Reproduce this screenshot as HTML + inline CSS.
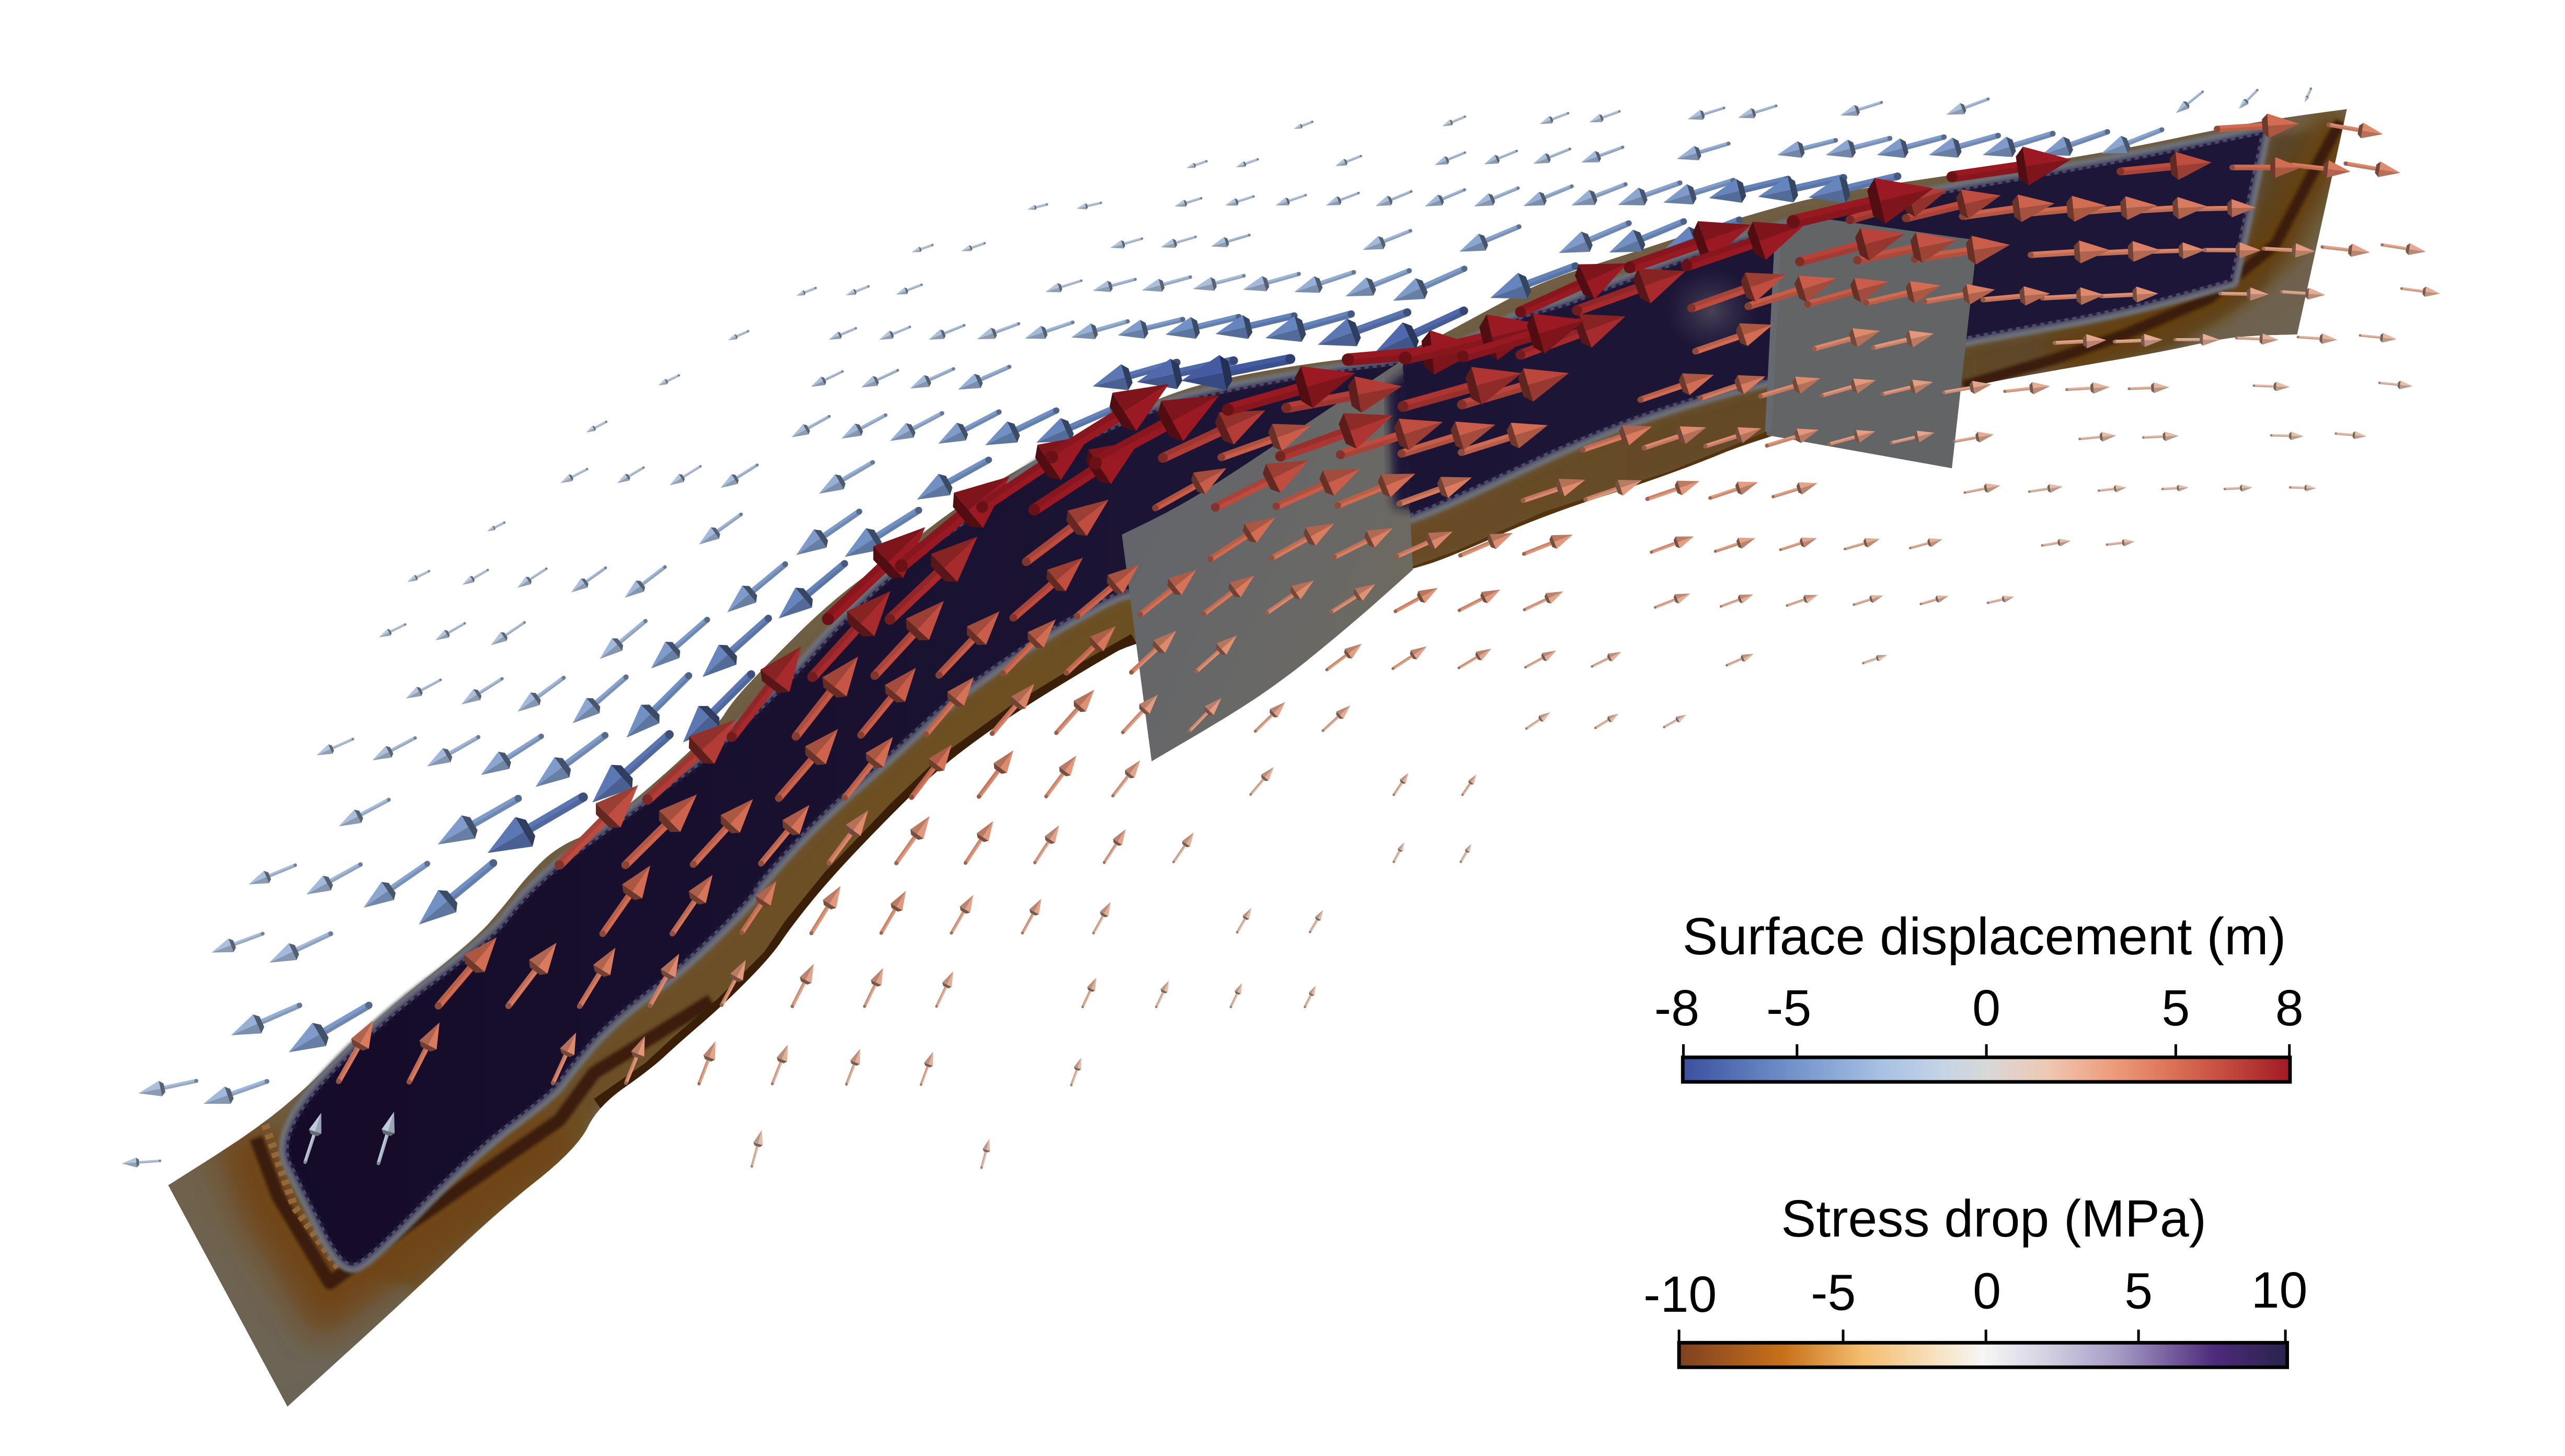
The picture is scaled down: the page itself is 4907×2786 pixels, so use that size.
<!DOCTYPE html>
<html lang="en">
<head>
<meta charset="utf-8">
<title>Surface displacement and stress drop</title>
<style>
html,body{margin:0;padding:0;background:#fff;width:4907px;height:2786px;overflow:hidden}
svg{display:block}
text{font-family:"Liberation Sans",Arial,sans-serif;fill:#000}
</style>
</head>
<body>
<svg id="scene" xmlns="http://www.w3.org/2000/svg" width="4907" height="2786" viewBox="0 0 1568 890.26">
<defs>
<polygon id="fault-outline" points="102.8,724.7 171,681.5 228,624 290,574.6 308,554 321.7,536.3 339.7,518.4 364.3,507.7 393.5,484.9 438.3,444 447.3,429.4 465.2,409.9 507.8,367.5 548.8,337.8 589,306.8 638.5,277.5 706.3,243.4 752,230 822.4,218.9 859,216.9 905,192 942,172.2 993.4,155.9 1064.7,132.5 1118.4,118.2 1192.4,107 1285,94 1377.8,74.4 1434.7,66.7 1404.3,204.5 1364.5,205.6 1324.8,214.6 1258.6,226 1200.3,236.6 1080.7,265.8 1021,290.2 944.7,314.7 889.7,339.1 863.7,348.3 694,392 671,405 620,436 577.3,466.9 548.2,494.6 508.1,536.4 484.3,565.7 471,585.3 441.9,614.6 415.4,637.4 397.7,653.8 365.9,676 352.6,702.5 302.3,742.4 249.3,793.3 175.7,860.1"/>
<polygon id="rupture-outline" points="169.9,693.7 228,629.5 302.3,574.2 319.5,551.7 341.9,530.5 371,509.3 409.2,481.6 438.3,460.4 487.7,413.1 510,387 548.8,349.2 598,315 640.7,280.7 709.3,249.5 752,239.3 822.4,227 857.6,223 877.4,218.9 905,208.7 929.4,194.4 957,188 975.3,180.2 1030,159.8 1110,134 1179,120 1285,102 1381.8,82.5 1363.2,170.6 1298.3,188.5 1205.6,204.8 1082,229 1005.8,251.5 960,269.9 929.4,284.1 898.8,298.4 862,314.7 780,340 688,359.5 671,367.5 633.4,388.7 581.8,424.6 543.7,460.4 498.9,499.5 463,538.6 458.5,548.4 415,591 371,624 345,655 336.8,667 289,702.5 222.8,771 209.6,773.4 187,729"/>
<polygon id="left-plate-outline" points="685.8,326.9 727.7,306.5 810,251.5 857.6,220 863.7,348.3 828.5,379.9 773.5,424.7 704,465.5"/>
<clipPath id="fault-clip"><use href="#fault-outline"/></clipPath>
<clipPath id="left-plate-clip"><use href="#left-plate-outline"/></clipPath>
<clipPath id="rupture-clip"><use href="#rupture-outline"/></clipPath>
<filter id="blur-10" x="-40%" y="-40%" width="180%" height="180%"><feGaussianBlur stdDeviation="10"/></filter>
<filter id="blur-6" x="-40%" y="-40%" width="180%" height="180%"><feGaussianBlur stdDeviation="6"/></filter>
<filter id="blur-3" x="-10%" y="-10%" width="120%" height="120%"><feGaussianBlur stdDeviation="3"/></filter>
<filter id="blur-1" x="-10%" y="-10%" width="120%" height="120%"><feGaussianBlur stdDeviation="0.9"/></filter>
<linearGradient id="patch-gradient" gradientUnits="userSpaceOnUse" x1="170" y1="0" x2="1380" y2="0">
<stop offset="0" stop-color="#150b29"/><stop offset="0.45" stop-color="#1c1434"/><stop offset="1" stop-color="#1e1638"/>
</linearGradient>
<linearGradient id="south-gradient" gradientUnits="userSpaceOnUse" x1="200" y1="0" x2="1400" y2="0">
<stop offset="0" stop-color="#6c5026"/><stop offset="0.35" stop-color="#6d5024"/><stop offset="0.7" stop-color="#644a26"/><stop offset="1" stop-color="#5a452b"/>
</linearGradient>
<linearGradient id="base-gradient" gradientUnits="userSpaceOnUse" x1="130" y1="640" x2="230" y2="860">
<stop offset="0" stop-color="#705f45"/><stop offset="0.6" stop-color="#6e6352"/><stop offset="1" stop-color="#6a6558"/>
</linearGradient>
<linearGradient id="left-plate-gradient" gradientUnits="userSpaceOnUse" x1="690" y1="330" x2="860" y2="400">
<stop offset="0" stop-color="#63656a"/><stop offset="0.6" stop-color="#696866"/><stop offset="1" stop-color="#6f6a5e"/>
</linearGradient>
<linearGradient id="displacement-gradient" gradientUnits="objectBoundingBox" x1="0" y1="0" x2="1" y2="0"></linearGradient>
<linearGradient id="stress-gradient" gradientUnits="objectBoundingBox" x1="0" y1="0" x2="1" y2="0"></linearGradient>
<radialGradient id="glow-gradient"><stop offset="0" stop-color="#6c6870" stop-opacity="0.55"/><stop offset="1" stop-color="#4a4460" stop-opacity="0"/></radialGradient>
</defs>

<rect x="0" y="0" width="1568" height="890.26" fill="#ffffff"/>

<g clip-path="url(#fault-clip)">
<use href="#fault-outline" fill="url(#base-gradient)"/>
<polygon filter="url(#blur-3)" fill="url(#south-gradient)" points="209,775 222.8,771 289,702.5 336.8,667 345,655 371,624 415,591 458.5,548.4 463,538.6 498.9,499.5 543.7,460.4 581.8,424.6 633.4,388.7 671,367.5 688,359.5 862,314.7 898.8,298.4 929.4,284.1 960,269.9 1005.8,251.5 1082,229 1205.6,204.8 1298.3,188.5 1363.2,170.6 1381.8,82.5 1415,80 1385,175 1330,212 1200,238 1081,267 1021,291 945,316 890,340 864,349 694,393 671,406 620,437 577,468 548,495 508,537 484,566 471,586 442,615 415,638 398,654 366,677 352,703 302,743 255,788"/>
<use href="#rupture-outline" fill="none" stroke="#6b5638" stroke-width="15" opacity="0.7" filter="url(#blur-3)"/>
<polyline filter="url(#blur-10)" fill="none" stroke="#6f4512" stroke-width="40" points="150,690 165,735 200,792 255,752 345,690"/>
<polyline filter="url(#blur-6)" fill="none" stroke="#64400f" stroke-width="26" points="1430.8,74.4 1414.9,103.7 1391,149.4 1351.3,182 1298.3,204.8 1256,219.5"/>
<polyline filter="url(#blur-1)" fill="none" stroke="#3a1e07" stroke-width="8" stroke-linejoin="round" points="156.6,695.9 169.9,731.3 201.6,784.4 249.3,749 342,684.8 363.2,656 434.8,611.8"/>
<polyline fill="none" stroke="#95683a" stroke-width="5" stroke-dasharray="3 3" points="160,682 180,738 207,775"/>
<polyline fill="none" stroke="#3a1e07" stroke-width="10" stroke-linejoin="round" points="365.9,676 397.7,653.8 415.4,637.4 441.9,614.6 471,585.3 484.3,565.7 508.1,536.4 548.2,494.6 577.3,466.9 620,436 671,405 694,392"/>
<polyline fill="none" stroke="#55330e" stroke-width="4" stroke-linejoin="round" points="863.7,348.3 889.7,339.1 944.7,314.7 1021,290.2 1080.7,265.8"/>
<polyline filter="url(#blur-1)" fill="none" stroke="#3a1e07" stroke-width="6.5" stroke-linejoin="round" points="1430.8,74.4 1414.9,103.7 1391,149.4 1351.3,182 1298.3,204.8 1256,219.5 1200.3,236"/>
</g>

<g>
<use href="#rupture-outline" fill="none" stroke="#6d7178" stroke-width="12" stroke-linejoin="round" filter="url(#blur-1)"/>
<use href="#rupture-outline" fill="none" stroke="#4c4a68" stroke-width="5.5" stroke-linejoin="round" filter="url(#blur-1)"/>
<use href="#rupture-outline" fill="url(#patch-gradient)"/>
<use href="#rupture-outline" fill="none" stroke="#1e1638" stroke-width="3" stroke-dasharray="2.5 2.5" opacity="0.8"/>
<g clip-path="url(#rupture-clip)">
<ellipse cx="1046" cy="190" rx="28" ry="26" fill="url(#glow-gradient)"/>
</g>
</g>

<g>
<use href="#left-plate-outline" fill="url(#left-plate-gradient)"/>
<g clip-path="url(#left-plate-clip)">
<polygon filter="url(#blur-3)" fill="#1e1638" points="848,236 866,222 866,312 852,310"/>
</g>
<line x1="858.5" y1="224" x2="862.5" y2="314" stroke="#1e1638" stroke-width="2" stroke-dasharray="3 2"/>
</g>
<g>
<polygon points="1087,143 1110,133 1208.8,146.9 1193.2,286.3 1079.9,266" fill="#626465"/>
<line x1="1087" y1="143" x2="1081" y2="264" stroke="#666a70" stroke-width="4"/>
</g>

<g id="arrows"></g>

<g id="displacement-colorbar">
<text x="1213" y="583.5" font-size="32" text-anchor="middle" textLength="369" lengthAdjust="spacingAndGlyphs">Surface displacement (m)</text>
</g>
<g id="stress-colorbar">
<text x="1218.8" y="756" font-size="32" text-anchor="middle" textLength="260" lengthAdjust="spacingAndGlyphs">Stress drop (MPa)</text>
</g>
</svg>

<script>
// Vector field, in scene (projected) units; one line per row of stations.
const tailX = [
802.2,895.5,958.6,990,1053.9,1085.8,1150.2,1215.4,1346.5,1379.9,1412.7,
737.5,768.9,831.9,895.5,927.2,959.7,992,1056.7,1122.2,1155.3,1188.4,1221.5,1254.9,1288.3,1321.6,
640,673,734.3,766.3,798.2,830.5,862.7,895.3,928,960.9,993.7,1027,1059.6,1093,1127,1160,
570,601.9,698.1,730.9,763.7,862.2,928.6,995.7,1029.3,1063.3,
498.6,530.9,563.4,661,694,727.7,760.4,794,827.6,861.5,895.2,963,
457.3,523.2,556.2,589.4,622.8,655.8,689.4,723,757.3,791.2,826,860.3,894.9,
415,515,548.8,582.9,617,719.4,754.2,788.8,
370.6,506.9,541.4,575.9,610.7,645.7,680.6,
358.9,393.4,428.2,462.9,533.5,604.4,
308.3,453,525.3,561.6,
262.3,298.2,334,370.2,406.5,480,516.3,
247.7,284.1,320.6,394.6,432.3,469.7,
269.3,306.9,344.6,382.7,421,459.2,
215.7,253.8,292.4,330.9,369.9,409.2,
237.7,316.8,356.5,
180.5,220.4,261.2,301.6,
160.6,202.2,183.1,225.5,120,163.2,97.8,
186.5,231.3,
459.6,600,207,250.1,338,382.6,427.3,472.1,517.4,563,654.9,
267.9,310.8,354.3,397.3,441.1,484.3,528.5,572.5,661.8,706.8,752.4,797.7,
368.4,411,453.4,496,538.7,581.6,625,668.4,756.3,800.8,
341.9,382.3,423.8,465.2,506.7,547.9,590.2,632.6,675,717.4,852,893,
395.7,476,516.4,557.2,598.4,639.5,680.3,764.5,852,894,
447.3,486.5,526.2,566.1,606.5,645.7,686.4,727,767.4,808.7,933.1,975.3,1017.3,
496.6,534.7,574,613.2,651.8,691.6,731.3,811.1,851.5,891.8,932.5,973.2,1055.6,1139,
506.2,544,619.4,658.4,697,735.9,774.4,813.9,853,892.1,931.9,1011.8,1052,1092.4,1133.3,1174.2,1215.2,
551,627.3,739.9,777.5,815.7,853.9,892.7,931.6,1009.5,1048.6,1088.4,1127.8,1167.7,1248.4,1288,
600.4,632.2,706.3,742.9,780.2,817.8,855.4,931,969.2,1007,1045.4,1083.9,1201.1,1240.5,1283,1322,1360,1400,
643,669.6,710.8,746.6,782.7,819.4,856.7,893.3,967.5,1005,1042.5,1080.1,1118.2,1156,1194.5,1271.3,1310.2,1388.4,1427.9,
750.6,786.3,857.6,893.6,1002.8,1039.5,1076.2,1113.7,1150.8,1188.1,1225.5,1263.4,1301.5,1377.8,1454.6,
824,859,894.3,929.4,1036.4,1108.9,1145.2,1255.9,1292.5,1329.6,1367.2,1404.8,1442.7,
929.4,964,1034,1068.7,1105,1140.7,1176.5,1212.2,1248.5,1284.5,1357.1,1394.5,1468.1,
996.2,1031,1100.2,1135.4,1170.6,1241.4,1276.6,1312.1,1347.6,1383.6,1419.6,1456.2,
1096.2,1130.9,1165.1,1199.8,1234.2,1269.2,1302.3,1340.2,
1193.2,1296.2,1364.5,1400.3,1433.9,1355.3,1423.4
];
const tailY = [
74.5,71.3,69.2,68.1,66,64.7,62.6,60.5,56.1,55.1,54.2,
98.6,97.4,95.4,93.3,92.3,91.1,90,87.8,85.8,84.6,83.8,82.9,81.7,80.6,79.3,
125,124,121.2,120.1,119.3,118,117.1,116,115,113.9,112.7,111.8,110.5,109.5,108.6,107.8,
149.8,148.7,145.9,144.8,143.7,141.1,138.6,136.5,135.4,134.4,
176.1,175.1,174.1,171.6,170.8,169.4,168.6,167.5,166.5,165.5,164.3,162.7,
202.5,200.7,199.9,198.9,197.9,197.1,196.5,195.3,193.8,193,192,191,190,
229.5,227.1,226.4,225.5,224.3,221.6,220.5,219.5,
257.9,254.6,253.8,252.7,251.9,251,250,
286.8,285.9,285.1,284.3,282.7,281.2,
319.5,314.5,312.8,312,
349.2,348.5,347.7,347.2,346.7,345,344.6,
381.8,381.1,380.6,379.7,378.9,378.1,
415.7,415,414.4,414,413.1,412.3,
451.9,451.2,450.7,450.2,449.6,449.1,
489,488.2,487.4,
529,528.6,528.1,527.7,
570.9,570.9,614.7,614.7,660.9,661.2,709.8,
710.7,711.4,
713.2,714,661.2,661.6,662.3,662.3,662.7,662.7,663,663.2,663.5,
615.1,615.1,615.3,614.9,614.6,615.4,615.4,615.4,615.7,615.7,615.7,615.7,
570.9,570.9,570.4,570.6,570.5,570.5,570.5,570.6,570.1,569.9,
528.9,528.9,528.5,528,527.7,527.8,527.7,527.5,527.4,527.1,527,527,
488.9,488.1,487.8,487.5,487.1,487,486.6,485.8,486,486,
450.6,450.3,449.5,449,448.5,448.1,447.8,447.1,447.1,446.8,445.5,445.1,444.6,
413.9,413.1,412.8,411.8,411.5,411.1,410.5,409.5,408.8,408.4,408,407.5,406.8,405.5,
378.5,378.7,377.7,376.8,375.8,375.4,374.8,374.2,373.8,373.2,372.8,371.4,370.8,370.3,369.7,369.3,368.6,
345.9,343.5,341.8,341.2,340.6,340.2,339.6,338.7,337.6,337.1,336.1,335.7,335.1,333.5,333,
310,311.7,310.6,310.2,309.6,309,308,306.1,305.5,305.1,304.5,303.7,301.2,300.6,300,299,299,298,
279.5,283,280,279.6,279,278,277.4,276.6,275,273.9,272.9,272.5,271.6,270.8,270,268.4,267.5,266.2,265.1,
250.5,249.5,248.5,247.4,244.4,243.4,242.3,241.9,241,240,239.3,238.2,237.7,235.8,234.1,
219.9,218.9,217.9,216.9,214.8,213.3,212.6,209.7,208.9,207.7,206.7,206.1,205.1,
190.7,189.8,188.4,187.3,186,185.2,184.4,183.3,182.3,181.1,179.5,178.4,176.4,
163.5,162.4,160,159.1,158.3,155.9,155.1,153.9,152.9,152,151,149.7,
135.5,134.4,133.4,132.2,130.9,129.8,129,127.8,
108.1,104.9,102.4,100.8,100,78.9,76.3
];
const tipX = [
790.8,881.5,941.2,971.4,1031.6,1062.4,1125,1189.7,1330.1,1368.5,1408.8,
725.2,755.4,816.2,877,907.2,937.2,966.6,1025,1086.4,1116,1147.3,1179.1,1212,1248,1284.5,
628,658,718,748.9,779.7,810.5,840.8,871,901,931.2,960.6,989,1016.8,1044.7,1074.7,1105.5,
557.3,587.6,678.7,709.5,740.3,833,892.1,952.9,983.7,1017.6,
486.7,517,547.7,639,668,698,729.2,759.8,791.2,822.4,851.5,911,
445,506.6,537.4,567.6,597.2,626.4,654.9,683.3,712.4,743,773.5,805.6,840.8,
402.2,495.7,526.4,556.4,585.6,668,695,722.2,
358.2,483.8,514.3,544,573.5,602.2,633.5,
342.5,377.3,409.3,440.5,500.6,560.5,
297.7,427.3,486.7,516.3,
248.9,282.5,316.1,349.1,381.8,444.5,475.9,
231.6,266.1,300,366.6,398,429.4,
248,282,316.3,350,383,417.5,
193.5,227.6,261,293.9,327.3,362.1,
207,267.5,298,
152,187.2,222.2,256,
129.3,164.6,141.3,176.5,84.6,124.3,74.5,
196.4,240.9,
465.7,604.8,228.1,268.7,352.1,394.2,437.4,481.6,525.9,570.4,661,
303.6,340.2,376.2,415.2,455.9,497.5,539.9,582.8,670.2,714.5,759.3,804.3,
397.5,435.6,474.6,513.9,553.8,595,636.6,679,765,808.8,
390.1,426,460.3,494.8,530.7,568.3,607.2,647.5,688.2,729.8,858.5,899.5,
449.5,512.3,545.9,581.8,619.5,658,697,778.7,861,902.5,
489.9,524.6,559.9,595.3,632.3,669,707.8,746.6,785.7,825.5,947.8,989.6,1031,
544.3,577,611,645.4,682,719.1,756.1,832.5,872.2,911.7,951.4,991.2,1072,1153.8,
565.6,597.5,662,696.2,731.3,766.8,803.2,840.8,879,917.2,955.7,1033.4,1071.8,1111.3,1151.2,1191.1,1231.3,
617.2,677.7,779.6,815.7,851.5,888.1,924.8,961.5,1035.5,1073.1,1110.7,1149.2,1187.5,1265.9,1305,
666.5,696.8,749.7,800.1,831.6,865.2,899.8,969.1,1003.7,1039,1074.7,1111,1222.9,1261,1300,1338,1377,1416,
714.5,745.4,773.5,801.6,851.5,882,914.1,946.2,1009.9,1043.1,1076.8,1111.8,1146.5,1182.6,1218.9,1293.8,1332,1408.3,1446.7,
828.5,857,930.3,959.1,1047.7,1079.2,1112.9,1146.8,1181.8,1217.5,1253.3,1289.8,1326.1,1399.8,1475,
907,944.7,969.1,993.6,1083.8,1149.4,1182.3,1287.7,1322.2,1357.1,1392.9,1428.9,1465.2,
994.8,1030.4,1092,1122.7,1154.5,1186.5,1219.6,1253.3,1286.4,1319.5,1387,1421.5,1491.7,
1070.4,1102.7,1164.5,1196.3,1228.7,1289.8,1320.8,1348.1,1382.3,1415.4,1448.8,1483,
1181.8,1190.5,1223.1,1255.9,1287.7,1318.7,1349.4,1379.1,
1266,1352,1407,1436.9,1467.3,1405.6,1456.7
];
const tipY = [
78.8,77.2,75.8,74.8,72.9,72,70.5,70.1,69.2,66.6,62.6,
102.7,102.2,101.5,100.9,100.4,100.1,99.3,97.2,94.8,94.8,94.8,94.8,94.8,94.8,93.9,
128,127.5,126.2,125.6,125.6,125.6,126,126.2,126.2,126,125.6,125.3,123.9,121.1,120.3,120.8,
154.2,153.6,151.5,151.2,150.7,152.8,153.9,154.7,154.4,152.3,
180.8,180.5,180.1,178.5,177.7,177.5,176.7,177.1,178.6,181.2,183.9,182.2,
208,207.7,207.7,207.7,207.4,207,206.3,205,204.6,204.2,206.7,210.8,215.2,
235.7,236.5,236.9,237.5,238.2,236.2,233.6,232.8,
264.4,267.4,268.2,269.6,271.3,272.2,270.6,
295.4,295.4,296.7,298.3,301.9,305.5,
324.9,332.9,339.4,340.5,
355.8,357.6,359.4,362.2,365.5,374.4,378.2,
389.6,391.5,394.5,402.9,408.7,414,
427.1,430.7,435.2,442.2,451,453.9,
461.8,464.9,468.6,473.9,481.2,490.7,
505.3,516.4,521.6,
540.7,546.9,555,565.3,
582.4,588.6,633,643.4,668.5,674.9,711.4,
680.4,679.7,
690.9,696.4,624,625.1,631.3,633.5,636.6,638.7,641.2,643.1,646.7,
573.1,576.4,579.4,583.1,586.9,589.3,591.8,593.9,597.8,599.6,601.1,602.7,
529.2,534.9,538.7,541.7,544.7,547.2,549.5,551.5,555.1,556.4,
480,485.7,488.6,492.2,495.5,499,502,504.6,507,509,515,516,
440,445.7,450.6,455.2,458.8,462,464.9,469,472.6,473.6,
395.2,401.4,408.3,414,418,421.7,424.7,426.8,429.2,431.3,435.5,436.4,437,
361.4,367.4,373.8,378.7,382.8,385.6,388.5,393.6,395.2,396.6,397.8,398.6,399.8,400.5,
322.3,328,341,345.2,348.3,351.8,354.8,357.1,359.5,360.5,361.6,362.9,363.5,363.8,364.1,364.4,364.8,
291.3,305.5,316.3,320,322.8,324.9,325.9,326.9,328,329,329,329.5,329.7,330.6,331,
266,269.3,286.2,281.5,286.6,289.6,291.9,293.3,293.7,294.2,294.8,295.4,296.8,297.4,298,298,298,298.5,
234.8,241.7,250.9,260,254,258,259.7,260,260.7,261.3,261.9,262.8,263.8,264.6,265.6,266.2,266.4,266.7,266.7,
228.1,236.2,228.1,228.1,229.1,230.1,231.3,232.5,233.6,234.9,236.1,236.6,236.7,236.6,236.1,
212.8,198.5,195.5,193.4,198.5,202.3,204,208,207.7,207.7,207.7,207.7,207.4,
161,165.7,167.8,170.2,172.2,174.6,177.1,179.5,180.3,179.5,180,180.3,179.5,
137.4,137.9,142.8,146.6,149.7,152.9,152.9,152.9,153.1,153.8,154.3,153.9,
115.1,116.3,119.5,124.4,125.7,125.7,126.2,127,
97.5,99.3,102.4,104.9,105.7,75.7,82
];
const surfaceDisplacement = [
-2,-2,-2.5,-2.5,-3,-3,-3,-3,-3,-2.5,-2,
-2,-2,-2.5,-3,-3,-3,-3.5,-4,-4.5,-4.5,-5,-5,-5,-5,-4.5,
-2,-2,-2.5,-2.5,-2.5,-3,-3,-3.5,-3.5,-4,-4,-4.5,-5,-6,-6,-6,
-2,-2,-2.5,-2.5,-3,-3.5,-4.5,-5,-5.5,-6,
-2,-2,-2.5,-2.5,-3,-3,-3,-3.5,-4,-4.5,-5,-6,
-2,-2.5,-2.5,-3,-3,-3.5,-4,-5,-5.5,-6,-6,-6.5,-7,
-2,-3,-3,-3.5,-4,-6.5,-7,-7.5,
-2,-3,-3.5,-4,-5,-5.5,-6,
-2,-2.5,-2.5,-3,-4,-5.5,
-2,-3.5,-5,-5.5,
-2,-2,-2.5,-3,-3.5,-5,-6,
-2,-2.5,-2.5,-3.5,-5,-6,
-2.5,-3,-3.5,-4.5,-5.5,-6.5,
-2.5,-3,-3.5,-4.5,-5,-6.5,
-3,-5,-6.5,
-3,-3.5,-4.5,-5.5,
-3,-3.5,-4,-5,-3,-3.5,-2.5,
-1.8,-1.8,
2.5,2.5,5,5,4.5,4,3.5,3,3,3,2.5,
5.5,5,5,4.5,4,3.5,3.5,3,3,2.5,2.5,2.5,
5.5,5.2,5,4,4,3.5,3.5,3,2.5,2.5,
6.5,5.8,5.5,5.3,4.5,4,4,3.5,3.5,3,2.2,2.2,
7,5.8,5.5,5.3,4.5,4,3.5,3,2.8,2.8,
7.5,6.2,6,5.3,4.8,4.3,3.8,3.8,3.5,3.2,2.5,2.5,2.2,
7.5,6.5,6,5.5,5.2,4.5,4.2,3.8,3.5,3.5,3.2,3,2.8,2.2,
8,7.5,6.5,5.8,5.3,5,4.5,4.2,4.2,4,3.5,3.2,3.2,3,2.8,2.8,2.5,
8,6.5,5.5,5,4.8,4.6,4.3,4,3.8,3.6,3.5,3.2,3,2.5,2.5,
8,8,6,6.5,6,5.5,5,4.5,4,4,3.8,3.5,2.8,2.5,2.4,2.2,2.2,2,
8,8,7,6,7.2,6.5,6,5.5,5,4.5,4.3,4,3.8,3.5,3.2,2.5,2.5,2.3,2.3,
8,7,7.2,6.7,5.5,5,4.5,4,3.8,3.5,3.2,2.8,2.8,2.5,2.3,
8,8,8,7.5,5.5,4.5,4,3.5,3.2,3,3,2.8,2.6,
8,7.5,6.5,6,6,5.5,5,4.8,4.5,4.2,3.5,3.2,3,
8,8,6.8,6.3,6,5,4.8,4.5,4.3,3.8,3.5,3.3,
8,7,6.5,5.8,5.5,5.2,5,4.8,
8,6.5,5.5,5,4.5,5.5,4.5
];

// Colour scales
const displacementStopPos = [0,0.187,0.33,0.43,0.5,0.6,0.7,0.8,0.9,1];
const displacementStopCol = ["#3a50a0","#7495cc","#a9c1e4","#c6d4e6","#d8d8d8","#eec8b4","#ee9f80","#dd7458","#c2483e","#a11a24"];
const stressStopPos = [0,0.174,0.3,0.43,0.5,0.6,0.72,0.88,1];
const stressStopCol = ["#7f4020","#c9711a","#f4bc6e","#f8e4c6","#f6f6f4","#d5d3e4","#a79cc6","#4e2a7c","#28234a"];

// Colour bar ticks
const displacementTicks = [-8,-5,0,5,8];
const displacementLabels = ["-8","-5","0","5","8"];
const stressTicks = [-10,-5,0,5,10];
const stressLabels = ["-10","-5","0","5","10"];

const NS = "http://www.w3.org/2000/svg";
const sceneX = function (u) { return u; };
const sceneY = function (u) { return u; };

// Round off the outlines of the fault shapes, keeping their true corners sharp.
function refineOutline(id, cornerList) {
  var el = document.getElementById(id);
  var pts = el.getAttribute("points").trim().split(/\s+/).map(function (s) {
    var q = s.split(",");
    return {x:+q[0], y:+q[1], corner: cornerList.indexOf(s) >= 0};
  });
  for (var it = 0; it < 3; it++) {
    var out = [];
    for (var i = 0; i < pts.length; i++) {
      var a = pts[i], b = pts[(i+1)%pts.length];
      if (a.corner) out.push(a);
      else out.push({x:0.75*a.x+0.25*b.x, y:0.75*a.y+0.25*b.y, corner:false});
      if (!b.corner) out.push({x:0.25*a.x+0.75*b.x, y:0.25*a.y+0.75*b.y, corner:false});
    }
    pts = out;
  }
  el.setAttribute("points", pts.map(function (p) { return p.x.toFixed(2)+","+p.y.toFixed(2); }).join(" "));
}
refineOutline("fault-outline", ["102.8,724.7","1434.7,66.7","1404.3,204.5","175.7,860.1"]);
refineOutline("rupture-outline", ["1381.8,82.5","1363.2,170.6"]);
refineOutline("left-plate-outline", ["685.8,326.9","857.6,220","863.7,348.3","704,465.5"]);

function hexToRgb(h) { return [parseInt(h.substr(1,2),16),parseInt(h.substr(3,2),16),parseInt(h.substr(5,2),16)]; }
function rgbStr(c, k) { return "rgb(" + c.map(function (x) { return Math.max(0,Math.min(255,Math.round(x*k))); }).join(",") + ")"; }
function rampColor(v) {
  var t = Math.max(0,Math.min(1,v/16+0.5));
  for (var i = 1; i < displacementStopPos.length; i++) {
    if (t <= displacementStopPos[i]) {
      var a = displacementStopPos[i-1], b = displacementStopPos[i], f = (t-a)/(b-a);
      var c0 = hexToRgb(displacementStopCol[i-1]), c1 = hexToRgb(displacementStopCol[i]);
      return [0,1,2].map(function (j) { return c0[j]+(c1[j]-c0[j])*f; });
    }
  }
  return hexToRgb(displacementStopCol[displacementStopCol.length-1]);
}
function arrowColor(v) {
  var m = Math.min(1, Math.abs(v)/8);
  return rampColor((v < 0 ? -1 : 1)*8*Math.pow(m,1.3));
}
function poly(parent, pts, fill) {
  var p = document.createElementNS(NS,"polygon");
  p.setAttribute("points", pts.map(function (q) { return q[0].toFixed(2)+","+q[1].toFixed(2); }).join(" "));
  p.setAttribute("fill", fill);
  parent.appendChild(p);
  return p;
}

function drawArrow(parent, i) {
  var x0 = sceneX(tailX[i]), y0 = sceneY(tailY[i]), x1 = sceneX(tipX[i]), y1 = sceneY(tipY[i]), v = surfaceDisplacement[i];
  var dx = x1-x0, dy = y1-y0, L = Math.hypot(dx,dy);
  if (L < 0.01) return;
  var ux = dx/L, uy = dy/L, px = -uy, py = ux;
  var base = arrowColor(v);
  var w = Math.max(0.75, L*(0.055+0.0045*Math.abs(v))/2);
  var hl = 0.38*L, hw = (0.115+0.006*Math.abs(v))*L;
  var bx = x1-ux*hl, by = y1-uy*hl;

  var g = document.createElementNS(NS,"g");
  
  

  var lx = v < 0 ? 0 : 0.9, ly = v < 0 ? -1 : -0.3;
  var s = (px*lx+py*ly) >= 0 ? 1 : -1;

  // shaft: lit half and shaded half
  poly(g, [[x0+px*w,y0+py*w],[bx+px*w,by+py*w],[bx-px*w,by-py*w],[x0-px*w,y0-py*w]], rgbStr(base,0.84));
  poly(g, [[x0+s*px*w,y0+s*py*w],[bx+s*px*w,by+s*py*w],[bx,by],[x0,y0]], rgbStr(base,0.95));
  // shaft end cap
  var cap = document.createElementNS(NS,"circle");
  cap.setAttribute("cx",x0); cap.setAttribute("cy",y0); cap.setAttribute("r",w);
  cap.setAttribute("fill",rgbStr(base,0.65));
  g.appendChild(cap);
  // cone base seen from behind
  var cb = 0.07*L;
  poly(g, [[bx+px*hw,by+py*hw],[bx+px*hw*0.55-ux*cb,by+py*hw*0.55-uy*cb],[bx-px*hw*0.55-ux*cb,by-py*hw*0.55-uy*cb],[bx-px*hw,by-py*hw]], rgbStr(base,0.5));
  // cone facets
  poly(g, [[x1,y1],[bx-s*px*hw,by-s*py*hw],[bx,by]], rgbStr(base,0.78));
  poly(g, [[x1,y1],[bx+s*px*hw,by+s*py*hw],[bx,by]], rgbStr(base,0.96));
  parent.appendChild(g);
}

var arrowLayer = document.getElementById("arrows");
var order = surfaceDisplacement.map(function (_, i) { return i; }).sort(function (a,b) {
  return Math.abs(surfaceDisplacement[a])-Math.abs(surfaceDisplacement[b]);
});
order.forEach(function (i) { drawArrow(arrowLayer, i); });

function fillGradient(id, pos, col) {
  var g = document.getElementById(id);
  pos.forEach(function (p, i) {
    var s = document.createElementNS(NS,"stop");
    s.setAttribute("offset", p);
    s.setAttribute("stop-color", col[i]);
    g.appendChild(s);
  });
}
fillGradient("displacement-gradient", displacementStopPos, displacementStopCol);
fillGradient("stress-gradient", stressStopPos, stressStopCol);

function drawBar(opts) {
  var parent = document.getElementById(opts.group);
  var r = document.createElementNS(NS,"rect");
  
  
  r.setAttribute("x",opts.x); r.setAttribute("y",opts.y);
  r.setAttribute("width",opts.w); r.setAttribute("height",opts.h);
  r.setAttribute("fill","url(#"+opts.grad+")");
  r.setAttribute("stroke","#000"); r.setAttribute("stroke-width","2.2");
  parent.appendChild(r);
  // piecewise-linear axis: the printed ticks are not quite evenly spaced on the bars
  var axis = function (v) {
    var d = opts.domain, f = opts.fractions;
    for (var k = 1; k < d.length; k++) {
      if (v <= d[k]) return opts.x+(f[k-1]+(v-d[k-1])/(d[k]-d[k-1])*(f[k]-f[k-1]))*opts.w;
    }
    return opts.x+f[f.length-1]*opts.w;
  };
  opts.ticks.forEach(function (t, i) {
    var l = document.createElementNS(NS,"line");
    
    
    var tx = axis(t);
    l.setAttribute("x1",tx); l.setAttribute("x2",tx);
    l.setAttribute("y1",opts.y-8); l.setAttribute("y2",opts.y);
    l.setAttribute("stroke","#000"); l.setAttribute("stroke-width","1.6");
    parent.appendChild(l);
    var txt = document.createElementNS(NS,"text");
    
    
    txt.setAttribute("x",tx+opts.labelShift[i]);
    txt.setAttribute("y",opts.labelY[i]);
    txt.setAttribute("font-size","31");
    txt.setAttribute("text-anchor","middle");
    txt.textContent = opts.labels[i];
    parent.appendChild(txt);
  });
}
drawBar({group:"displacement-colorbar",name:"displacement",grad:"displacement-gradient",x:1028.7,y:646.5,w:371.2,h:15,
  domain:[-8,8],fractions:[0.001,0.999],
  ticks:displacementTicks,labels:displacementLabels,labelShift:[-4,-5,0,0,0],labelY:[627,627,627,627,627]});
drawBar({group:"stress-colorbar",name:"stress",grad:"stress-gradient",x:1026.4,y:821,w:371.8,h:15,
  domain:[-10,-5,0,5,10],fractions:[0,0.2698,0.5046,0.7555,0.997],
  ticks:stressTicks,labels:stressLabels,labelShift:[0.7,-6,0.6,0,-3.7],labelY:[802,801,800,800,799.5]});
</script>
</body>
</html>
